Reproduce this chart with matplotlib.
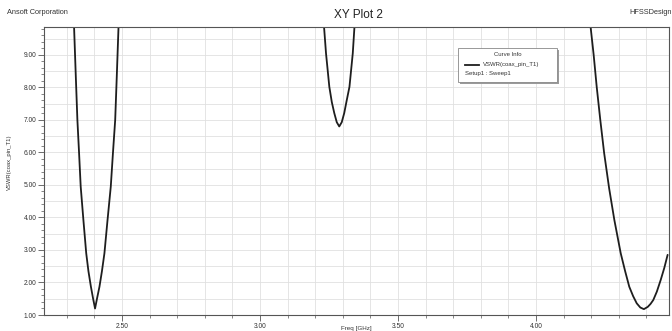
import matplotlib
matplotlib.use("Agg")
import matplotlib.pyplot as plt
from matplotlib.patches import Rectangle
from matplotlib.lines import Line2D
import numpy as np

plt.rcParams['font.family'] = ['Liberation Sans', 'DejaVu Sans']

# Data (frequency in GHz, VSWR)
freq = [2.326, 2.332, 2.338, 2.344, 2.350, 2.360, 2.370, 2.378, 2.387, 2.395, 2.402,
        2.409, 2.418, 2.427, 2.436, 2.447, 2.459, 2.467, 2.475, 2.481, 2.487,
        2.60, 2.90, 3.15,
        3.232, 3.239, 3.251, 3.260, 3.269, 3.278, 3.287, 3.296, 3.305, 3.314, 3.324, 3.336, 3.342,
        3.55, 3.90, 4.10,
        4.198, 4.209, 4.220, 4.233, 4.247, 4.265, 4.284, 4.307, 4.323, 4.338, 4.352, 4.365,
        4.378, 4.391, 4.405, 4.415, 4.425, 4.438, 4.452, 4.465, 4.477]
vswr = [9.85, 8.40, 7.00, 6.00, 4.95, 3.90, 2.90, 2.35, 1.87, 1.50, 1.20,
        1.50, 1.87, 2.35, 2.90, 3.90, 4.95, 6.00, 7.00, 8.40, 9.85,
        14.0, 20.0, 14.0,
        9.85, 9.05, 8.02, 7.55, 7.21, 6.93, 6.80, 6.93, 7.21, 7.60, 8.02, 9.05, 9.85,
        14.0, 20.0, 14.0,
        9.85, 9.00, 8.02, 7.00, 5.98, 4.90, 3.92, 2.90, 2.35, 1.87, 1.58, 1.36,
        1.23, 1.18, 1.25, 1.34, 1.46, 1.72, 2.08, 2.45, 2.85]

x_ticks = [2.50, 3.00, 3.50, 4.00]
x_ticklabels = ["2.50", "3.00", "3.50", "4.00"]
y_ticks = [1, 2, 3, 4, 5, 6, 7, 8, 9]
y_ticklabels = ["1.00", "2.00", "3.00", "4.00", "5.00", "6.00", "7.00", "8.00", "9.00"]

W, H = 672, 331
fig = plt.figure(figsize=(W / 100, H / 100), dpi=100)
ax = fig.add_axes([44 / W, 1 - 315 / H, (669 - 44) / W, (315 - 27.3) / H])

ax.plot(freq, vswr, color='#1e1e1e', lw=1.3, solid_joinstyle='round', solid_capstyle='round')
ax.set_xlim(2.217, 4.482)
ax.set_ylim(1.0, 9.85)

ax.set_xticks(x_ticks)
ax.set_xticklabels(x_ticklabels)
ax.set_yticks(y_ticks)
ax.set_yticklabels(y_ticklabels)
ax.set_xticks(np.arange(2.3, 4.45, 0.1), minor=True)
ax.set_yticks(np.arange(1.0, 9.85, 0.2), minor=True)

ax.tick_params(axis='both', which='major', labelsize=4.8, colors='#555555',
               labelcolor='#333333', length=4, width=0.6, pad=1.5)
ax.tick_params(axis='both', which='minor', length=2.5, width=0.5, colors='#555555')

# grid
for xv in np.arange(2.3, 4.45, 0.1):
    ax.axvline(xv, color='#e0e0e0', lw=0.6, zorder=0)
for yv in np.arange(1.5, 9.85, 0.5):
    ax.axhline(yv, color='#e0e0e0', lw=0.6, zorder=0)

for s in ax.spines.values():
    s.set_color('#555555')
    s.set_linewidth(0.8)

ax.set_xlabel("Freq [GHz]", fontsize=4.5, color='#333333')
ax.set_ylabel("VSWR(coax_pin_T1)", fontsize=4.2, color='#333333')
ax.xaxis.set_label_coords(0.5, -0.037)
ax.xaxis.label.set_va('top')
ax.yaxis.set_label_coords(-0.052, 0.53)

fig.text(358 / W, 1 - 15 / H, "XY Plot 2", fontsize=8.5, ha='center', va='center', color='#222222')
fig.text(7 / W, 1 - 13 / H, "Ansoft Corporation", fontsize=5.3, ha='left', va='center', color='#333333')
fig.text(672 / W, 1 - 13 / H, "HFSSDesign", fontsize=5.3, ha='right', va='center', color='#333333')

# legend box ("Curve Info")
bx0, by0, bx1, by1 = 458, 48, 557, 82
fig.patches.append(Rectangle((bx0 / W + 2 / W, 1 - (by1 + 2) / H), (bx1 - bx0) / W, (by1 - by0) / H,
                             transform=fig.transFigure, facecolor='#9a9a9a', edgecolor='none', zorder=5))
fig.patches.append(Rectangle((bx0 / W, 1 - by1 / H), (bx1 - bx0) / W, (by1 - by0) / H,
                             transform=fig.transFigure, facecolor='white', edgecolor='#888888',
                             lw=0.6, zorder=6))
fig.text(((bx0 + bx1) / 2) / W, 1 - 54 / H, "Curve Info", fontsize=4.3, ha='center', va='center',
         color='#333333', zorder=7)
fig.lines.append(Line2D([465 / W, 479 / W], [1 - 64.5 / H, 1 - 64.5 / H], transform=fig.transFigure,
                        color='#1e1e1e', lw=1.3, zorder=7))
fig.text(483 / W, 1 - 64.5 / H, "VSWR(coax_pin_T1)", fontsize=4.3, ha='left', va='center',
         color='#333333', zorder=7)
fig.text(465 / W, 1 - 73.5 / H, "Setup1 : Sweep1", fontsize=4.3, ha='left', va='center',
         color='#333333', zorder=7)

fig.savefig("out.png", dpi=100)
